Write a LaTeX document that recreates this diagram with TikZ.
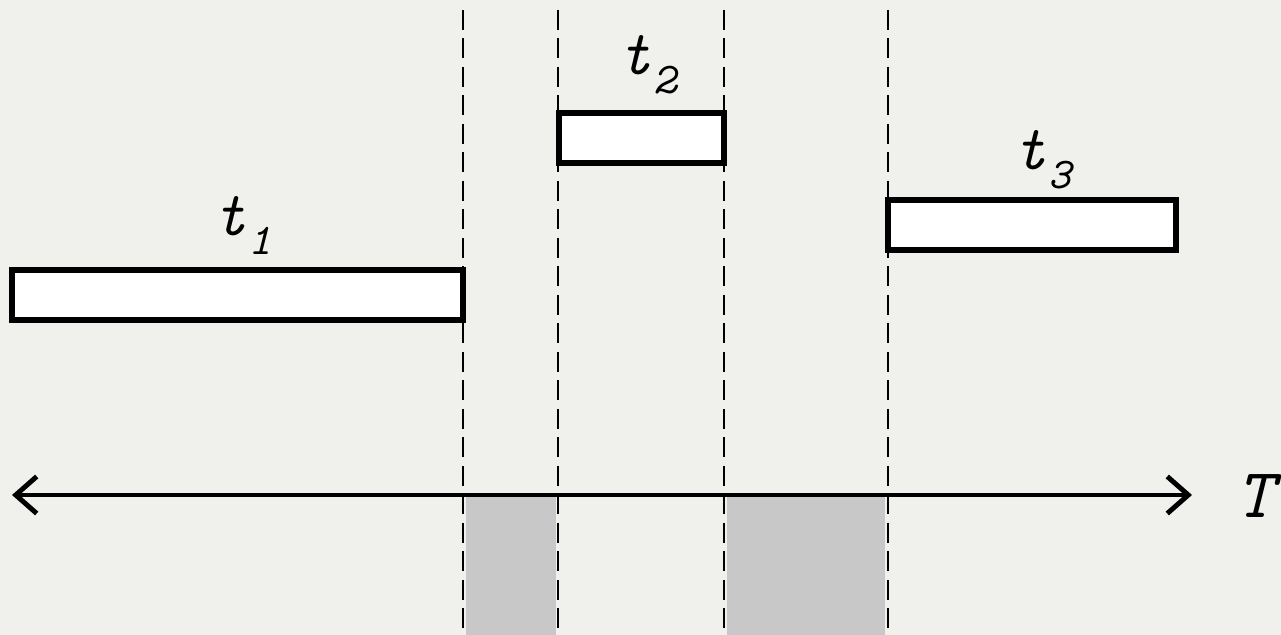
\documentclass[tikz,border=0pt]{standalone}
\usepackage{fontspec}
\usetikzlibrary{arrows.meta}
\definecolor{paper}{RGB}{240,241,237}
\definecolor{idle}{RGB}{200,200,200}
% task label: t with a dropped index
\newcommand{\tlab}[1]{t\kern0.04em\raisebox{-0.3em}{\fontsize{25}{25}\selectfont #1}}

\begin{document}
\begin{tikzpicture}[
            > = {Straight Barb[length=4.2mm,width=7.4mm,line width=2.8pt]}, % arrow head style
            task/.style = {draw=black, fill=white, line width=2.9pt, minimum height=1.0cm, inner sep=0pt},
            cut/.style = {black, line width=1.4pt, dash pattern=on 0.4cm off 0.17cm},
            lab/.style = {font=\ttfamily\itshape\addfontfeatures{FakeBold=3}\fontsize{36}{36}\selectfont, inner sep=0pt}
        ]
\fill[paper] (0,0) rectangle (25.62,12.7);
\useasboundingbox (0,0) rectangle (25.62,12.7);

% idle gaps
\fill[idle] (9.32,0) rectangle (11.12,2.76);
\fill[idle] (14.54,0) rectangle (17.70,2.76);

\coordinate (a1) at (9.26,12.5);  \coordinate (b1) at (9.26,0);
\coordinate (a2) at (11.16,12.5); \coordinate (b2) at (11.16,0);
\coordinate (a3) at (14.48,12.5); \coordinate (b3) at (14.48,0);
\coordinate (a4) at (17.76,12.5); \coordinate (b4) at (17.76,0);

\draw[cut] (a1) -- (b1);
\draw[cut] (a2) -- (b2);
\draw[cut] (a3) -- (b3);
\draw[cut] (a4) -- (b4);

\node[task, minimum width=9.02cm] (T1) at (4.75,6.8) {};
\node[task, minimum width=3.3cm] (T2) at (12.83,9.94) {};
\node[task, minimum width=5.76cm] (T3) at (20.64,8.2) {};

\node[lab] (L1) at (4.85,8.2) {\tlab{1}};
\node[lab] (L2) at (12.95,11.4) {\tlab{2}};
\node[lab] (L3) at (20.85,9.5) {\tlab{3}};

\coordinate (left) at (0.24,2.8);
\coordinate (right) at (23.84,2.8);
\draw[<->, line width=2.7pt] (left) -- (right);
\node[lab, font=\ttfamily\itshape\addfontfeatures{FakeBold=3}\fontsize{40}{40}\selectfont] (time) at (25.1,2.78) {T};
\end{tikzpicture}
\end{document}
